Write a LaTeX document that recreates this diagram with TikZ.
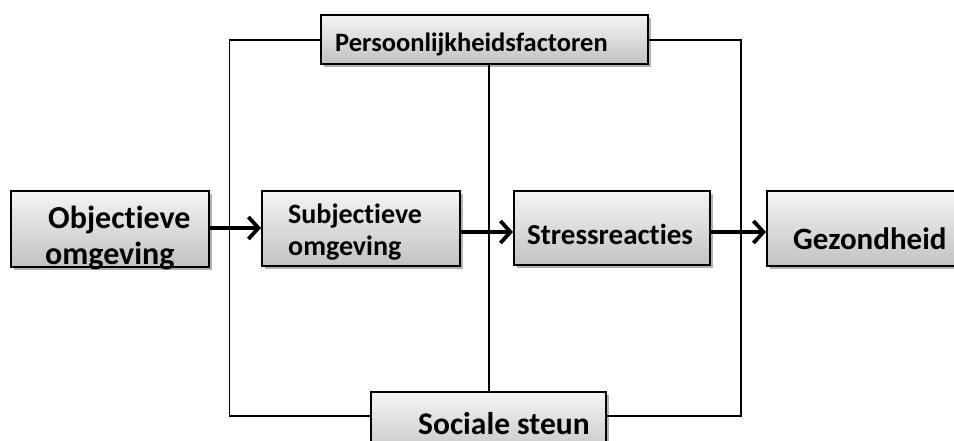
\documentclass[tikz,border=0pt]{standalone}
\usepackage{fontspec}
\setmainfont{Carlito}[Ligatures={NoCommon}]
\usetikzlibrary{arrows.meta,shadows}
\definecolor{boxtop}{HTML}{F4F4F4}
\definecolor{boxbot}{HTML}{C2C2C2}
\tikzset{
  boxnode/.style={draw=black, line width=2pt, inner sep=0pt, top color=boxtop, bottom color=boxbot,
    drop shadow={shadow xshift=3pt, shadow yshift=-3pt, opacity=0.3, fill=black}},
  lbl/.style={inner sep=0pt, anchor=base west, font=\bfseries},
  conn/.style={line width=1.6pt},
  arr/.style={line width=3.8pt, -{Straight Barb[length=10pt,width=22pt]}}
}
\newcommand{\boxat}[5]{\node[boxnode, minimum width={(#4-#2)*1pt}, minimum height={(#5-#3)*1pt}] (#1) at ({(#2+#4)/2},{(#3+#5)/2}) {};}
\begin{document}
\begin{tikzpicture}[x=1pt,y=-1pt]
\useasboundingbox (0,0) rectangle (954,441);
\coordinate (tl) at (229.5,40);
\coordinate (bl) at (229.5,416);
\coordinate (tr) at (741,40);
\coordinate (br) at (741,416);
\coordinate (mt) at (489,64);
\coordinate (a1) at (0,228);
\coordinate (a2) at (0,232);
% boxes
\boxat{pers}{321}{15}{648}{64}
\boxat{soc}{371}{392}{606}{460}
\boxat{obj}{11}{191}{209}{267}
\boxat{subj}{262}{191}{460}{266}
\boxat{stress}{514}{191}{710}{265}
\boxat{gez}{767}{191}{975}{266}
% connectors
\draw[conn] (pers.west |- tl) -- (tl) -- (bl) -- (soc.west |- bl);
\draw[conn] (pers.east |- tr) -- (tr) -- (br) -- (soc.east |- br);
\draw[conn] (pers.south -| mt) -- (soc.north -| mt);
% arrows
\draw[arr] (obj.east |- a1) -- (subj.west |- a1);
\draw[arr] (subj.east |- a2) -- (stress.west |- a2);
\draw[arr] (stress.east |- a2) -- (gez.west |- a2);
% labels
\node[lbl, font=\bfseries\fontsize{32}{36}\selectfont] (t1) at (48,229) {Objectieve};
\node[lbl, font=\bfseries\fontsize{32}{36}\selectfont] (t2) at (45,265) {omgeving};
\node[lbl, font=\bfseries\fontsize{28}{32}\selectfont] (t3) at (288,223) {Subjectieve};
\node[lbl, font=\bfseries\fontsize{28}{32}\selectfont] (t4) at (288,255) {omgeving};
\node[lbl, font=\bfseries\fontsize{29}{33}\selectfont] (t5) at (527,244) {Stressreacties};
\node[lbl, font=\bfseries\fontsize{31}{35}\selectfont] (t6) at (793,250) {Gezondheid};
\node[lbl, font=\bfseries\fontsize{26.5}{30}\selectfont] (t7) at (335,52) {Persoonlijkheidsfactoren};
\node[lbl, font=\bfseries\fontsize{31.5}{35}\selectfont] (t8) at (418,434) {Sociale steun};
\end{tikzpicture}
\end{document}
